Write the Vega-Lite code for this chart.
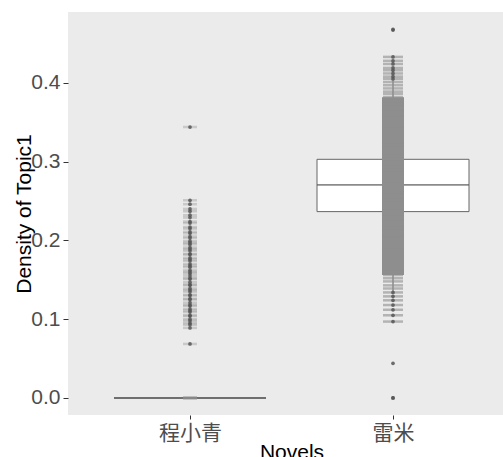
{
  "$schema": "https://vega.github.io/schema/vega-lite/v6.json",
  "width": 435,
  "height": 403,
  "autosize": {"type": "none"},
  "padding": {"left": 68, "top": 12, "right": 0, "bottom": 42},
  "background": "white",
  "config": {
    "view": {"fill": "#ebebeb", "stroke": null},
    "font": "Liberation Sans, Noto Sans CJK SC",
    "axis": {
      "domain": false,
      "grid": false,
      "labelFont": "Liberation Sans, Noto Sans CJK SC",
      "titleFont": "Liberation Sans, Noto Sans CJK SC",
      "labelFontSize": 21,
      "labelColor": "#4d4d4d",
      "tickColor": "#333333",
      "titleFontSize": 21,
      "titleFontWeight": "normal",
      "titleColor": "#000000"
    },
    "axisY": {"tickSize": 5, "labelPadding": 3, "titleX": -38, "titleBaseline": "alphabetic"},
    "axisX": {"tickSize": 4, "labelPadding": 3, "labelAngle": 0, "titlePadding": -2}
  },
  "datasets": {
    "box": [
      {"novel": "程小青", "lower": 0, "q1": 0, "median": 0, "q3": 0, "upper": 0},
      {"novel": "雷米", "lower": 0.136, "q1": 0.2366, "median": 0.2705, "q3": 0.303, "upper": 0.403}
    ],
    "pts": [
      {"novel": "程小青", "topic1": 0}, {"novel": "程小青", "topic1": 0}, {"novel": "程小青", "topic1": 0},
      {"novel": "程小青", "topic1": 0}, {"novel": "程小青", "topic1": 0}, {"novel": "程小青", "topic1": 0},
      {"novel": "程小青", "topic1": 0.344}, {"novel": "程小青", "topic1": 0.0686},
      {"novel": "程小青", "topic1": 0.089}, {"novel": "程小青", "topic1": 0.093}, {"novel": "程小青", "topic1": 0.095},
      {"novel": "程小青", "topic1": 0.098}, {"novel": "程小青", "topic1": 0.1}, {"novel": "程小青", "topic1": 0.104},
      {"novel": "程小青", "topic1": 0.105}, {"novel": "程小青", "topic1": 0.109}, {"novel": "程小青", "topic1": 0.111},
      {"novel": "程小青", "topic1": 0.113}, {"novel": "程小青", "topic1": 0.117}, {"novel": "程小青", "topic1": 0.118},
      {"novel": "程小青", "topic1": 0.121}, {"novel": "程小青", "topic1": 0.125}, {"novel": "程小青", "topic1": 0.126},
      {"novel": "程小青", "topic1": 0.13}, {"novel": "程小青", "topic1": 0.131}, {"novel": "程小青", "topic1": 0.135},
      {"novel": "程小青", "topic1": 0.137}, {"novel": "程小青", "topic1": 0.139}, {"novel": "程小青", "topic1": 0.143},
      {"novel": "程小青", "topic1": 0.144}, {"novel": "程小青", "topic1": 0.147}, {"novel": "程小青", "topic1": 0.151},
      {"novel": "程小青", "topic1": 0.152}, {"novel": "程小青", "topic1": 0.155}, {"novel": "程小青", "topic1": 0.158},
      {"novel": "程小青", "topic1": 0.16}, {"novel": "程小青", "topic1": 0.162}, {"novel": "程小青", "topic1": 0.166},
      {"novel": "程小青", "topic1": 0.168}, {"novel": "程小青", "topic1": 0.17}, {"novel": "程小青", "topic1": 0.174},
      {"novel": "程小青", "topic1": 0.176}, {"novel": "程小青", "topic1": 0.178}, {"novel": "程小青", "topic1": 0.182},
      {"novel": "程小青", "topic1": 0.183}, {"novel": "程小青", "topic1": 0.187}, {"novel": "程小青", "topic1": 0.189},
      {"novel": "程小青", "topic1": 0.191}, {"novel": "程小青", "topic1": 0.195}, {"novel": "程小青", "topic1": 0.197},
      {"novel": "程小青", "topic1": 0.199}, {"novel": "程小青", "topic1": 0.203}, {"novel": "程小青", "topic1": 0.205},
      {"novel": "程小青", "topic1": 0.209}, {"novel": "程小青", "topic1": 0.211}, {"novel": "程小青", "topic1": 0.215},
      {"novel": "程小青", "topic1": 0.217}, {"novel": "程小青", "topic1": 0.222}, {"novel": "程小青", "topic1": 0.224},
      {"novel": "程小青", "topic1": 0.229}, {"novel": "程小青", "topic1": 0.232}, {"novel": "程小青", "topic1": 0.237},
      {"novel": "程小青", "topic1": 0.24}, {"novel": "程小青", "topic1": 0.246}, {"novel": "程小青", "topic1": 0.251},
      {"novel": "雷米", "topic1": 0}, {"novel": "雷米", "topic1": 0}, {"novel": "雷米", "topic1": 0.044},
      {"novel": "雷米", "topic1": 0.467}, {"novel": "雷米", "topic1": 0.468},
      {"novel": "雷米", "topic1": 0.433}, {"novel": "雷米", "topic1": 0.428}, {"novel": "雷米", "topic1": 0.424},
      {"novel": "雷米", "topic1": 0.419}, {"novel": "雷米", "topic1": 0.416}, {"novel": "雷米", "topic1": 0.412},
      {"novel": "雷米", "topic1": 0.408}, {"novel": "雷米", "topic1": 0.405}, {"novel": "雷米", "topic1": 0.401},
      {"novel": "雷米", "topic1": 0.397}, {"novel": "雷米", "topic1": 0.393}, {"novel": "雷米", "topic1": 0.389},
      {"novel": "雷米", "topic1": 0.386}, {"novel": "雷米", "topic1": 0.382}, {"novel": "雷米", "topic1": 0.379},
      {"novel": "雷米", "topic1": 0.376}, {"novel": "雷米", "topic1": 0.372}, {"novel": "雷米", "topic1": 0.369},
      {"novel": "雷米", "topic1": 0.365}, {"novel": "雷米", "topic1": 0.362}, {"novel": "雷米", "topic1": 0.358},
      {"novel": "雷米", "topic1": 0.355}, {"novel": "雷米", "topic1": 0.351}, {"novel": "雷米", "topic1": 0.348},
      {"novel": "雷米", "topic1": 0.344}, {"novel": "雷米", "topic1": 0.341}, {"novel": "雷米", "topic1": 0.337},
      {"novel": "雷米", "topic1": 0.334}, {"novel": "雷米", "topic1": 0.33}, {"novel": "雷米", "topic1": 0.327},
      {"novel": "雷米", "topic1": 0.323}, {"novel": "雷米", "topic1": 0.32}, {"novel": "雷米", "topic1": 0.316},
      {"novel": "雷米", "topic1": 0.313}, {"novel": "雷米", "topic1": 0.309}, {"novel": "雷米", "topic1": 0.306},
      {"novel": "雷米", "topic1": 0.302}, {"novel": "雷米", "topic1": 0.299}, {"novel": "雷米", "topic1": 0.295},
      {"novel": "雷米", "topic1": 0.292}, {"novel": "雷米", "topic1": 0.288}, {"novel": "雷米", "topic1": 0.285},
      {"novel": "雷米", "topic1": 0.281}, {"novel": "雷米", "topic1": 0.278}, {"novel": "雷米", "topic1": 0.274},
      {"novel": "雷米", "topic1": 0.271}, {"novel": "雷米", "topic1": 0.267}, {"novel": "雷米", "topic1": 0.264},
      {"novel": "雷米", "topic1": 0.26}, {"novel": "雷米", "topic1": 0.257}, {"novel": "雷米", "topic1": 0.253},
      {"novel": "雷米", "topic1": 0.25}, {"novel": "雷米", "topic1": 0.246}, {"novel": "雷米", "topic1": 0.243},
      {"novel": "雷米", "topic1": 0.239}, {"novel": "雷米", "topic1": 0.236}, {"novel": "雷米", "topic1": 0.232},
      {"novel": "雷米", "topic1": 0.229}, {"novel": "雷米", "topic1": 0.225}, {"novel": "雷米", "topic1": 0.222},
      {"novel": "雷米", "topic1": 0.218}, {"novel": "雷米", "topic1": 0.215}, {"novel": "雷米", "topic1": 0.211},
      {"novel": "雷米", "topic1": 0.208}, {"novel": "雷米", "topic1": 0.204}, {"novel": "雷米", "topic1": 0.201},
      {"novel": "雷米", "topic1": 0.197}, {"novel": "雷米", "topic1": 0.194}, {"novel": "雷米", "topic1": 0.19},
      {"novel": "雷米", "topic1": 0.187}, {"novel": "雷米", "topic1": 0.183}, {"novel": "雷米", "topic1": 0.18},
      {"novel": "雷米", "topic1": 0.176}, {"novel": "雷米", "topic1": 0.173}, {"novel": "雷米", "topic1": 0.169},
      {"novel": "雷米", "topic1": 0.166}, {"novel": "雷米", "topic1": 0.162}, {"novel": "雷米", "topic1": 0.159},
      {"novel": "雷米", "topic1": 0.156}, {"novel": "雷米", "topic1": 0.152}, {"novel": "雷米", "topic1": 0.148},
      {"novel": "雷米", "topic1": 0.143}, {"novel": "雷米", "topic1": 0.139}, {"novel": "雷米", "topic1": 0.134},
      {"novel": "雷米", "topic1": 0.129}, {"novel": "雷米", "topic1": 0.124}, {"novel": "雷米", "topic1": 0.118},
      {"novel": "雷米", "topic1": 0.112}, {"novel": "雷米", "topic1": 0.105}, {"novel": "雷米", "topic1": 0.097}
    ]
  },
  "encoding": {
    "x": {
      "field": "novel",
      "type": "nominal",
      "title": "Novels",
      "scale": {"type": "point", "domain": ["程小青", "雷米"], "range": [122, 325], "padding": 0}
    }
  },
  "layer": [
    {
      "data": {"name": "box"},
      "mark": {"type": "bar", "size": 152, "fill": "white", "stroke": "#666666", "strokeWidth": 1},
      "encoding": {
        "y": {"field": "q1", "type": "quantitative", "title": "Density of Topic1",
              "scale": {"domain": [-0.0216, 0.49], "nice": false, "zero": false},
              "axis": {"values": [0, 0.1, 0.2, 0.3, 0.4], "format": ".1f"}},
        "y2": {"field": "q3"}
      }
    },
    {
      "data": {"name": "box"},
      "mark": {"type": "rule", "color": "#5a5a5a", "strokeWidth": 1},
      "encoding": {
        "y": {"field": "lower", "type": "quantitative", "title": "Density of Topic1",
              "axis": {"values": [0, 0.1, 0.2, 0.3, 0.4], "format": ".1f"}},
        "y2": {"field": "q1"}
      }
    },
    {
      "data": {"name": "box"},
      "mark": {"type": "rule", "color": "#5a5a5a", "strokeWidth": 1},
      "encoding": {
        "y": {"field": "q3", "type": "quantitative", "title": "Density of Topic1",
              "axis": {"values": [0, 0.1, 0.2, 0.3, 0.4], "format": ".1f"}},
        "y2": {"field": "upper"}
      }
    },
    {
      "data": {"name": "box"},
      "mark": {"type": "tick", "size": 152, "thickness": 1.6, "color": "#5a5a5a"},
      "encoding": {
        "y": {"field": "median", "type": "quantitative", "title": "Density of Topic1",
              "axis": {"values": [0, 0.1, 0.2, 0.3, 0.4], "format": ".1f"}}
      }
    },
    {
      "data": {"name": "pts"},
      "transform": [{"filter": "datum.novel == '程小青'"}],
      "mark": {"type": "tick", "size": 14, "thickness": 2.5, "color": "#8a8a8a", "opacity": 0.35},
      "encoding": {
        "y": {"field": "topic1", "type": "quantitative", "title": "Density of Topic1",
              "axis": {"values": [0, 0.1, 0.2, 0.3, 0.4], "format": ".1f"}}
      }
    },
    {
      "data": {"name": "pts"},
      "transform": [{"filter": "datum.novel == '雷米' && datum.topic1 >= 0.157 && datum.topic1 <= 0.38"}],
      "mark": {"type": "tick", "size": 22, "thickness": 4.5, "color": "#8e8e8e", "opacity": 1},
      "encoding": {
        "y": {"field": "topic1", "type": "quantitative", "title": "Density of Topic1",
              "axis": {"values": [0, 0.1, 0.2, 0.3, 0.4], "format": ".1f"}}
      }
    },
    {
      "data": {"name": "pts"},
      "transform": [{"filter": "datum.novel == '雷米' && ((datum.topic1 > 0.09 && datum.topic1 < 0.157) || (datum.topic1 > 0.38 && datum.topic1 < 0.44))"}],
      "mark": {"type": "tick", "size": 20, "thickness": 2.5, "color": "#8e8e8e", "opacity": 0.6},
      "encoding": {
        "y": {"field": "topic1", "type": "quantitative", "title": "Density of Topic1",
              "axis": {"values": [0, 0.1, 0.2, 0.3, 0.4], "format": ".1f"}}
      }
    },
    {
      "data": {"name": "pts"},
      "transform": [
        {"filter": "(datum.novel == '程小青' && datum.topic1 > 0) || (datum.novel == '雷米' && (datum.topic1 > 0.403 || datum.topic1 < 0.136))"}
      ],
      "mark": {"type": "circle", "size": 14, "color": "#555555", "opacity": 0.85},
      "encoding": {
        "y": {"field": "topic1", "type": "quantitative", "title": "Density of Topic1",
              "axis": {"values": [0, 0.1, 0.2, 0.3, 0.4], "format": ".1f"}}
      }
    }
  ]
}
